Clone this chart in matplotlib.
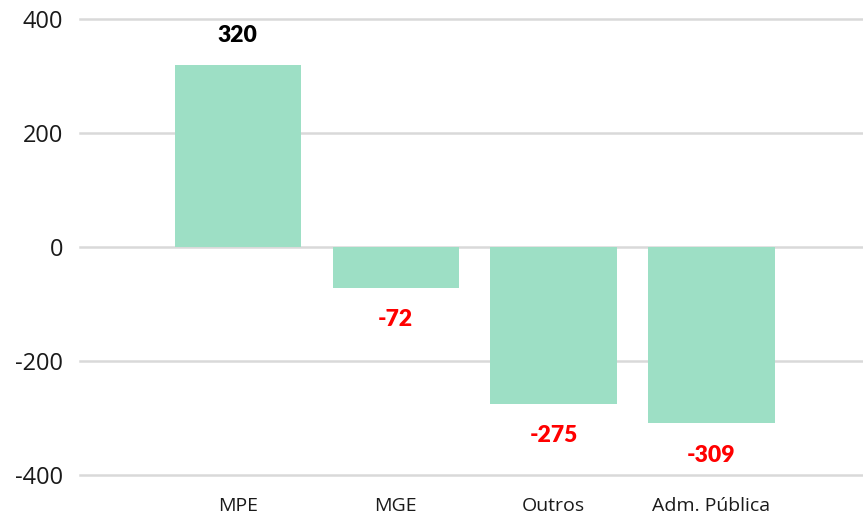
import matplotlib
matplotlib.use('Agg')
import matplotlib.pyplot as plt

categories = ['MPE', 'MGE', 'Outros', 'Adm. Pública']
values = [320, -72, -275, -309]
yticks = [-400, -200, 0, 200, 400]

plt.rcParams['font.family'] = ['Open Sans', 'DejaVu Sans']

fig = plt.figure(figsize=(8.63, 5.2), dpi=100)
ax = fig.add_axes([80 / 863, 45 / 520, 1 - 80 / 863, 456 / 520])

x = list(range(len(categories)))
ax.bar(x, values, width=0.8, color='#9ddfc5', zorder=2)

for xi, v in zip(x, values):
    col = 'black' if v >= 0 else '#ff0000'
    off = 21 if v >= 0 else -23
    ax.annotate(str(v), (xi, v), xytext=(0, off), textcoords='offset points',
                ha='center', va='center', fontsize=16.5, fontweight='heavy',
                color=col, family=['Lato', 'DejaVu Sans'])

ax.set_xlim(-1.0, 3.96)
ax.set_ylim(-400, 400)
ax.set_yticks(yticks)
ax.set_yticklabels([str(t) for t in yticks])
ax.set_xticks(x)
ax.set_xticklabels(categories)
ax.grid(axis='y', color='#d9d9d9', linewidth=1.8, zorder=0)
for gl in ax.get_ygridlines():
    gl.set_clip_on(False)
ax.set_axisbelow(True)
for s in ax.spines.values():
    s.set_visible(False)
ax.tick_params(axis='y', length=0, pad=12, labelsize=17, labelcolor='#1a1a1a')
ax.tick_params(axis='x', length=0, pad=16, labelsize=14, labelcolor='#1a1a1a')

fig.savefig('out.png', dpi=100)
